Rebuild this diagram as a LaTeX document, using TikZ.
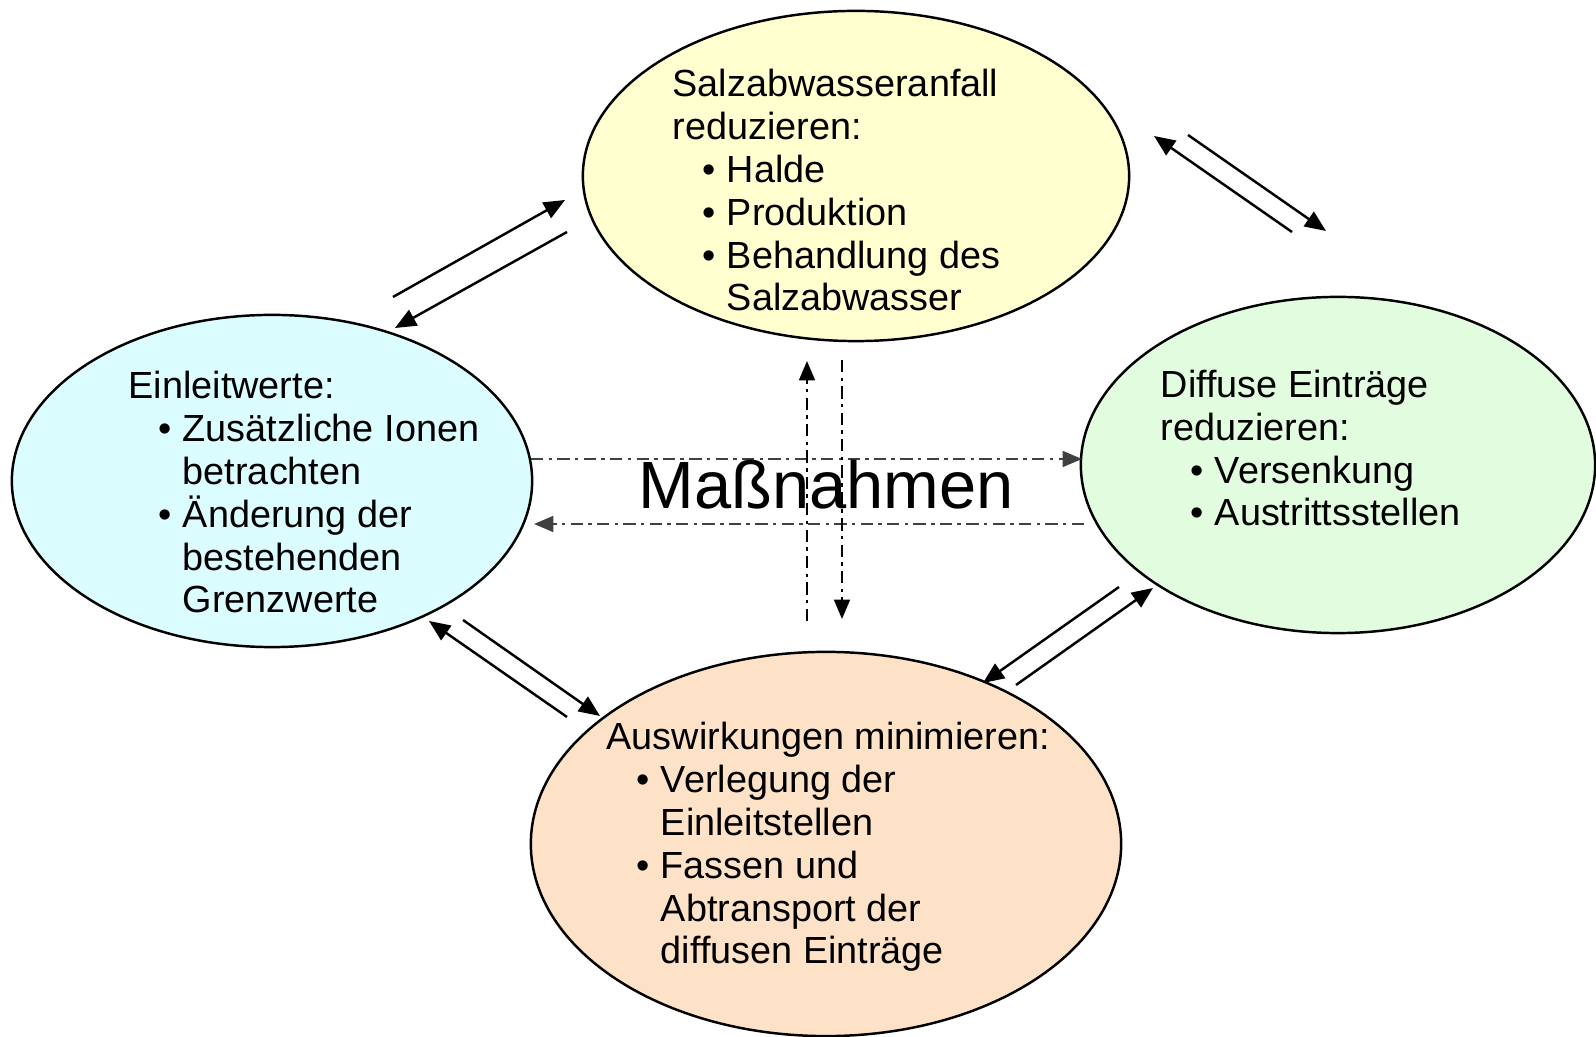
\documentclass[tikz,border=0pt]{standalone}
\usepackage{fontspec}
\setmainfont{Liberation Sans}
\usetikzlibrary{shapes.geometric,arrows.meta}
\definecolor{salzgelb}{RGB}{255,255,208}
\definecolor{einblau}{RGB}{220,253,255}
\definecolor{difgruen}{RGB}{226,252,224}
\definecolor{ausorange}{RGB}{253,226,200}
\newcommand{\bul}{\hspace*{8.6pt}\makebox[6.8pt][l]{\textbullet}}
\newcommand{\ind}{\hspace*{15.4pt}}

\begin{document}
\begin{tikzpicture}[x=0.01cm,y=-0.01cm,
    ell/.style={draw, ellipse, inner sep=0pt, line width=0.7pt},
    txt/.style={anchor=base west, align=left, inner sep=0pt, font=\fontsize{10.75}{12.2}\selectfont},
    pair/.style={-{Triangle[length=6pt,width=5pt]}, line width=0.7pt},
    dd/.style={-{Triangle[length=5.5pt,width=4.5pt]}, line width=0.6pt, dash pattern=on 3.5pt off 1.5pt on 1pt off 1.5pt}]
    \useasboundingbox (0,0) rectangle (1596,1037);
    % the four ellipses
    \node[ell, fill=salzgelb, minimum width=5.46cm, minimum height=3.30cm] (sal) at (856,176) {};
    \node[ell, fill=einblau, minimum width=5.20cm, minimum height=3.32cm] (ein) at (272,481) {};
    \node[ell, fill=difgruen, minimum width=5.14cm, minimum height=3.36cm] (dif) at (1338,465) {};
    \node[ell, fill=ausorange, minimum width=5.90cm, minimum height=3.84cm] (aus) at (826,844) {};
    % texts, placed at the baseline of their last line
    \node[txt] (salt) at (672,311) {Salzabwasseranfall\\reduzieren:\\\bul Halde\\\bul Produktion\\\bul Behandlung des\\\ind Salzabwasser};
    \node[txt] (eint) at (128,613) {Einleitwerte:\\\bul Zusätzliche Ionen\\\ind betrachten\\\bul Änderung der\\\ind bestehenden\\\ind Grenzwerte};
    \node[txt] (dift) at (1160,526) {Diffuse Einträge\\reduzieren:\\\bul Versenkung\\\bul Austrittsstellen};
    \node[txt] (aust) at (606,964) {Auswirkungen minimieren:\\\bul Verlegung der\\\ind Einleitstellen\\\bul Fassen und\\\ind Abtransport der\\\ind diffusen Einträge};
    % paired arrows
    \coordinate (tla) at (393,297); \coordinate (tlb) at (565,200);
    \coordinate (tlc) at (567,232); \coordinate (tld) at (395,328);
    \coordinate (tra) at (1292,232); \coordinate (trb) at (1154,136);
    \coordinate (trc) at (1188,135); \coordinate (trd) at (1326,231);
    \coordinate (bla) at (567,717); \coordinate (blb) at (429,621);
    \coordinate (blc) at (463,620); \coordinate (bld) at (600,716);
    \coordinate (bra) at (1119,587); \coordinate (brb) at (983,683);
    \coordinate (brc) at (1016,685); \coordinate (brd) at (1153,588);
    \draw[pair] (tla) -- (tlb);
    \draw[pair] (tlc) -- (tld);
    \draw[pair] (tra) -- (trb);
    \draw[pair] (trc) -- (trd);
    \draw[pair] (bla) -- (blb);
    \draw[pair] (blc) -- (bld);
    \draw[pair] (bra) -- (brb);
    \draw[pair] (brc) -- (brd);
    % centre
    \coordinate (ha) at (531,459); \coordinate (hb) at (1082,459);
    \coordinate (hc) at (1084,524); \coordinate (hd) at (534,524);
    \coordinate (va) at (807,621); \coordinate (vb) at (807,361);
    \coordinate (vc) at (842,360); \coordinate (vd) at (842,619);
    \draw[dd, black!75] (ha) -- (hb);
    \draw[dd, black!75] (hc) -- (hd);
    \draw[dd] (va) -- (vb);
    \draw[dd] (vc) -- (vd);
    \node[anchor=base, inner sep=0pt, font=\fontsize{19}{22}\selectfont] (mass) at (826,509) {Maßnahmen};
\end{tikzpicture}
\end{document}
